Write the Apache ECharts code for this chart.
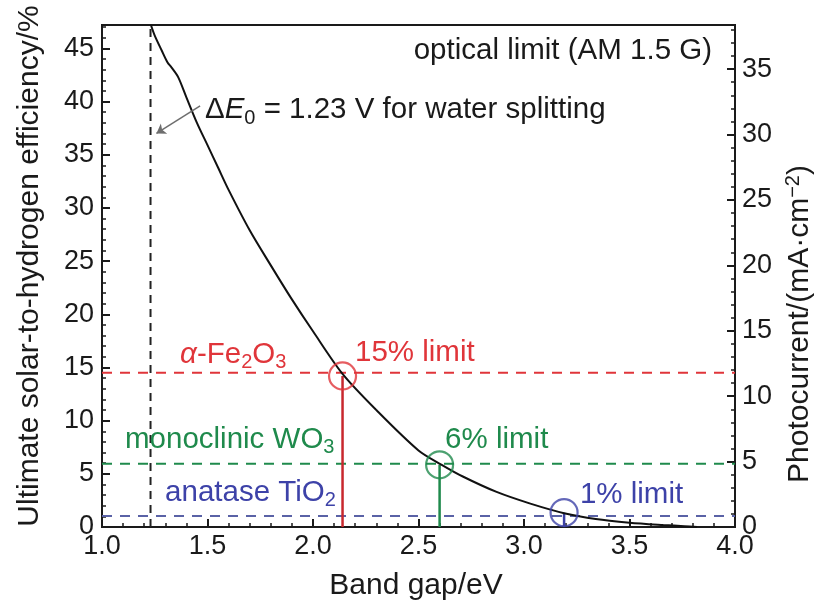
<!DOCTYPE html>
<html>
<head>
<meta charset="utf-8">
<script src="https://cdn.jsdelivr.net/npm/echarts@6/dist/echarts.min.js"></script>
<style>
  html, body { margin: 0; padding: 0; background: #fff; }
  #chart { width: 822px; height: 606px; }
</style>
</head>
<body>
<div id="chart"></div>
<script>
// Theoretical STH efficiency vs. band gap (AM 1.5 G optical limit)
const bandGap = [1.232, 1.25, 1.283, 1.31, 1.33, 1.361, 1.40, 1.45, 1.50, 1.55, 1.60, 1.70, 1.80, 1.90, 2.00, 2.14, 2.30, 2.50, 2.61, 2.71, 2.87, 3.03, 3.19, 3.34, 3.50, 3.66, 3.76, 3.82];
const efficiency = [47.2, 46.2, 44.8, 43.7, 43.2, 42.3, 40.4, 38.0, 35.9, 33.8, 31.7, 27.9, 24.6, 21.4, 18.4, 14.4, 11.0, 7.2, 5.85, 4.75, 3.3, 2.2, 1.3, 0.75, 0.41, 0.19, 0.08, 0.0];

// Photoanode materials and their efficiency limits
const materials = ['α-Fe2O3', 'monoclinic WO3', 'anatase TiO2'];
const limitLevel = [14.5, 5.95, 1.03];     // horizontal dashed lines (%)
const limitGap = [2.14, 2.60, 3.19];       // band gap of each material (eV)
const limitOnCurve = [14.2, 5.85, 1.35];   // marker centres (%)
const limitText = ['15% limit', '6% limit', '1% limit'];
const colors = ['#e0353a', '#1f8a4c', '#3d42a8'];
const dashColors = ['#e0353a', '#1f8a4c', '#5a62a6'];
const stemColors = ['#c8282e', '#1f8a4c', '#3d42a8'];

// Axis ranges / ticks
const xTicks = [1.0, 1.5, 2.0, 2.5, 3.0, 3.5, 4.0];
const yLeftMax = 47.2;
const sthPerMilliamp = 1.23;               // 1 mA/cm² at 1.23 V -> 1.23 %
const yRightMax = yLeftMax / sthPerMilliamp;
const waterSplitting = 1.23;

const FONT = 'Liberation Sans, Arial, sans-serif';
const INK = '#1a1a1a';
const chart = echarts.init(document.getElementById('chart'), null, { renderer: 'canvas' });

const series = [];
// efficiency curve
series.push({
  type: 'line', yAxisIndex: 0, z: 5,
  data: bandGap.map((e, i) => [e, efficiency[i]]),
  smooth: 0.3, symbol: 'none',
  lineStyle: { color: '#111', width: 2 }
});
// 1.23 eV thermodynamic threshold
series.push({
  type: 'line', yAxisIndex: 0, symbol: 'none', z: 3,
  data: [[waterSplitting, 0], [waterSplitting, yLeftMax]],
  lineStyle: { color: '#222', width: 2, type: [8, 6] }
});
materials.forEach((m, i) => {
  series.push({
    type: 'line', yAxisIndex: 0, symbol: 'none', z: 2,
    data: [[xTicks[0], limitLevel[i]], [xTicks[xTicks.length - 1], limitLevel[i]]],
    lineStyle: { color: dashColors[i], width: 2, type: [10, 8] }
  });
  series.push({
    type: 'line', yAxisIndex: 0, symbol: 'none', z: 4,
    data: [[limitGap[i], 0], [limitGap[i], limitOnCurve[i]]],
    lineStyle: { color: stemColors[i], width: 2.5 }
  });
  series.push({
    type: 'scatter', yAxisIndex: 0, z: 6,
    data: [[limitGap[i], limitOnCurve[i]]],
    symbol: 'circle', symbolSize: 27,
    itemStyle: { color: 'rgba(0,0,0,0)', borderColor: colors[i], borderWidth: 2.2 }
  });
});
// pointer from the ΔE0 note to the threshold line
series.push({
  type: 'lines', coordinateSystem: 'cartesian2d', yAxisIndex: 0, z: 7,
  symbol: ['none', 'arrow'], symbolSize: 9,
  data: [{ coords: [[1.465, 39.6], [1.258, 37.0]] }],
  lineStyle: { color: '#6e6e6e', width: 1.5, opacity: 1 }
});

const tickLabel = { fontFamily: FONT, fontSize: 27, color: INK };
const tickStyle = { show: true, inside: true, length: 8, lineStyle: { color: INK, width: 2 } };
const minorStyle = { show: true, splitNumber: 5, length: 4, lineStyle: { color: INK, width: 1.5 } };

chart.setOption({
  animation: false,
  backgroundColor: '#fff',
  grid: { left: 102, right: 87, top: 25, bottom: 79, show: true, borderColor: INK, borderWidth: 2, containLabel: false },
  xAxis: {
    type: 'value', min: 1.0, max: 4.0, interval: 0.5,
    axisLine: { show: true, lineStyle: { color: INK, width: 2 } },
    axisTick: tickStyle, minorTick: minorStyle,
    splitLine: { show: false },
    axisLabel: Object.assign({ margin: 6, formatter: v => v.toFixed(1) }, tickLabel)
  },
  yAxis: [{
    type: 'value', min: 0, max: yLeftMax, interval: 5, position: 'left',
    axisLine: { show: true, lineStyle: { color: INK, width: 2 } },
    axisTick: tickStyle, minorTick: minorStyle,
    splitLine: { show: false },
    axisLabel: Object.assign({ margin: 8, showMaxLabel: false }, tickLabel)
  }, {
    type: 'value', min: 0, max: yRightMax, interval: 5, position: 'right',
    axisLine: { show: true, lineStyle: { color: INK, width: 2 } },
    axisTick: tickStyle, minorTick: minorStyle,
    splitLine: { show: false },
    axisLabel: Object.assign({ margin: 7, showMaxLabel: false }, tickLabel)
  }],
  series: series
});

// Annotations anchored to data positions
const px = (x, y) => chart.convertToPixel({ xAxisIndex: 0, yAxisIndex: 0 }, [x, y]);
const FS = 29.5, SUB = 20;
const base = (c) => ({ fontFamily: FONT, fontSize: FS, fill: c, lineHeight: 36 });
const ital = (c) => ({ fontFamily: FONT, fontSize: FS, fill: c, lineHeight: 36, fontStyle: 'italic' });
const sub = (c) => ({ fontFamily: FONT, fontSize: SUB, fill: c, lineHeight: SUB + 1, verticalAlign: 'bottom' });

const graphics = [];
function note(pos, str, rich, align) {
  graphics.push({
    type: 'text', x: pos[0], y: pos[1], z: 20,
    style: { text: str, rich: rich, align: align || 'left', verticalAlign: 'middle', fontFamily: FONT }
  });
}

note(px(3.891, 44.8), '{n|optical limit (AM 1.5 G)}', { n: base(INK) }, 'right');
note(px(1.488, 39.2), '{n|Δ}{i|E}{s|0}{n| = 1.23 V for water splitting}',
  { n: base(INK), i: ital(INK), s: sub(INK) });

// material names at the left of each limit line, limit text beside each marker
const matLabel = ['{i|α}{n|-Fe}{s|2}{n|O}{s|3}', '{n|monoclinic WO}{s|3}', '{n|anatase TiO}{s|2}'];
const matPos = [[1.370, 16.2], [1.109, 8.2], [1.299, 3.2]];
const limitPos = [[2.199, 16.35], [2.626, 8.2], [3.265, 3.0]];
materials.forEach((m, i) => {
  const c = colors[i];
  note(px(matPos[i][0], matPos[i][1]), matLabel[i], { n: base(c), i: ital(c), s: sub(c) });
  note(px(limitPos[i][0], limitPos[i][1]), '{n|' + limitText[i] + '}', { n: base(c) });
});

// axis titles
function title(x, y, rot, str, rich) {
  graphics.push({
    type: 'text', x: x, y: y, rotation: rot, z: 20,
    style: { text: str, rich: rich, align: 'center', verticalAlign: 'middle' }
  });
}
const tBase = { fontFamily: FONT, fontSize: 30, fill: INK, lineHeight: 34 };
title(416, 586, 0, '{n|Band gap/eV}', { n: tBase });
title(30, 266, Math.PI / 2, '{n|Ultimate solar-to-hydrogen efficiency/%}', { n: tBase });
title(800, 324, Math.PI / 2, '{n|Photocurrent/(mA·cm}{p|−2}{n|)}', {
  n: tBase,
  p: { fontFamily: FONT, fontSize: 20, fill: INK, lineHeight: 21, verticalAlign: 'top' }
});

chart.setOption({ graphic: graphics });
</script>
</body>
</html>
